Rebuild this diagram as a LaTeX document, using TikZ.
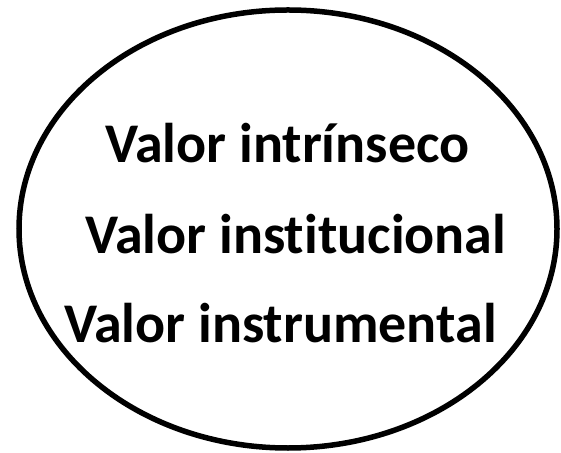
\documentclass[tikz,border=0pt]{standalone}
\usepackage{fontspec}
\setmainfont[Ligatures={NoCommon,NoRare,NoDiscretionary,NoContextual}]{Carlito}
\begin{document}
\begin{tikzpicture}[x=1pt,y=1pt,
  lbl/.style={anchor=base west,inner sep=0pt,font=\bfseries\fontsize{56}{66}\selectfont},
  oval/.style={draw=black,line width=5.5pt}]
\useasboundingbox (0,0) rectangle (561,452);
\fill[white] (0,0) rectangle (561,452);
\draw[oval] (288,223) ellipse [x radius=269, y radius=219];
\node[lbl] (t1) at (105,289) {Valor intrínseco};
\node[lbl] (t2) at (85,198) {Valor institucional};
\node[lbl] (t3) at (64,109) {Valor instrumental};
\end{tikzpicture}
\end{document}
